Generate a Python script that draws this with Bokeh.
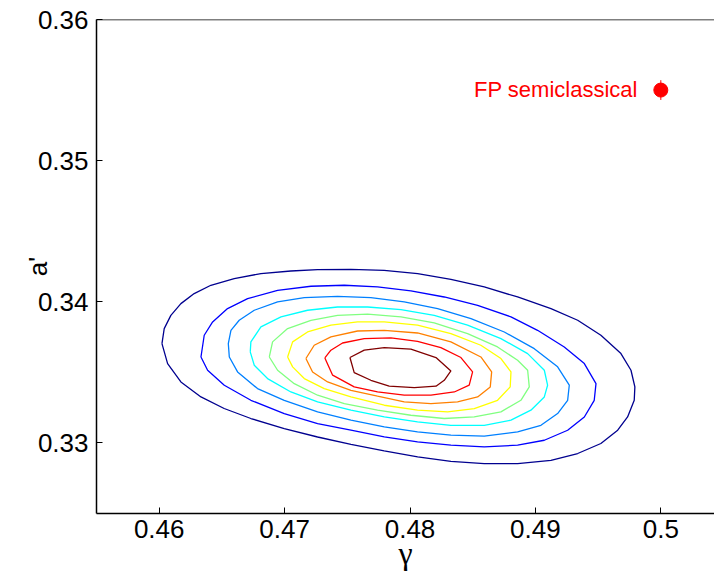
from bokeh.plotting import figure
from bokeh.models import FixedTicker, Span, Range1d
from bokeh.core.properties import value
from bokeh.embed import file_html
from bokeh.resources import INLINE

# ---- data ----
x_ticks = [0.46, 0.47, 0.48, 0.49, 0.5]
x_tick_labels = ["0.46", "0.47", "0.48", "0.49", "0.5"]
y_ticks = [0.33, 0.34, 0.35, 0.36]
y_tick_labels = ["0.33", "0.34", "0.35", "0.36"]

level_colors = ["#00008F", "#0000FF", "#0080FF", "#00FFFF", "#80FF80",
                "#FFFF00", "#FF8000", "#FF0000", "#800000"]

level1_x = [0.46022, 0.4604, 0.46093, 0.46173, 0.46279, 0.46412, 0.46598, 0.46811, 0.4705, 0.47263,
            0.47529, 0.47794, 0.48061, 0.48326, 0.48592, 0.48858, 0.49124, 0.49337, 0.49522, 0.49682,
            0.49762, 0.49793, 0.49788, 0.49735, 0.49656, 0.49522, 0.49337, 0.49124, 0.48858, 0.48592,
            0.48326, 0.48061, 0.47794, 0.47529, 0.47263, 0.46997, 0.46731, 0.46518, 0.46333, 0.46173,
            0.46067]
level1_y = [0.33704, 0.3381, 0.33904, 0.33987, 0.34058, 0.34117, 0.34164, 0.342, 0.34218, 0.34228,
            0.3423, 0.34223, 0.342, 0.34159, 0.34105, 0.34034, 0.33952, 0.33869, 0.33763, 0.33633,
            0.33515, 0.33397, 0.33302, 0.33184, 0.3309, 0.32996, 0.32925, 0.32877, 0.32854, 0.32854,
            0.3287, 0.32901, 0.32943, 0.32989, 0.33042, 0.33102, 0.33173, 0.33244, 0.33326, 0.33432,
            0.33562]

level2_x = [0.46333, 0.46359, 0.46426, 0.46545, 0.46705, 0.46944, 0.4721, 0.47476, 0.47741, 0.48007,
            0.48273, 0.48539, 0.48805, 0.49017, 0.4923, 0.4939, 0.49483, 0.49469, 0.4939, 0.49257,
            0.49071, 0.48858, 0.48592, 0.48326, 0.4806, 0.47795, 0.47529, 0.47263, 0.46997, 0.46731,
            0.46519, 0.46386]
level2_y = [0.33609, 0.33763, 0.33857, 0.33952, 0.34022, 0.34081, 0.3411, 0.34117, 0.34105, 0.34077,
            0.34034, 0.33975, 0.33893, 0.33798, 0.3368, 0.33562, 0.3342, 0.33302, 0.33184, 0.3309,
            0.33019, 0.32984, 0.32972, 0.32984, 0.33007, 0.33043, 0.3309, 0.33137, 0.33208, 0.33302,
            0.33409, 0.33515]

level3_x = [0.46551, 0.46572, 0.46638, 0.46758, 0.46944, 0.47157, 0.47422, 0.47688, 0.47954, 0.4822,
            0.48486, 0.48752, 0.48991, 0.49177, 0.4927, 0.49257, 0.49177, 0.49044, 0.48858, 0.48592,
            0.48326, 0.4806, 0.47795, 0.47529, 0.47263, 0.46997, 0.46784, 0.46625, 0.46559]
level3_y = [0.33704, 0.33798, 0.33869, 0.3394, 0.33999, 0.3403, 0.34039, 0.3403, 0.33999, 0.33952,
            0.33881, 0.33786, 0.33668, 0.33539, 0.33409, 0.33302, 0.33208, 0.33125, 0.33078, 0.33048,
            0.33055, 0.33078, 0.33114, 0.33161, 0.3322, 0.33302, 0.33385, 0.33503, 0.33609]

level4_x = [0.46726, 0.46731, 0.46811, 0.46971, 0.47183, 0.47422, 0.47662, 0.47928, 0.48193, 0.48459,
            0.48725, 0.48938, 0.49071, 0.49097, 0.49071, 0.48964, 0.48805, 0.48592, 0.48326, 0.4806,
            0.47795, 0.47529, 0.47263, 0.4705, 0.46864, 0.46758]
level4_y = [0.33645, 0.33716, 0.33822, 0.33893, 0.3394, 0.33963, 0.33963, 0.33945, 0.33904, 0.33834,
            0.33739, 0.33633, 0.33515, 0.33409, 0.33326, 0.33232, 0.33161, 0.33125, 0.33125, 0.33149,
            0.33184, 0.33232, 0.33291, 0.33361, 0.33456, 0.3355]

level5_x = [0.46878, 0.46904, 0.47024, 0.4721, 0.47422, 0.47662, 0.47928, 0.48193, 0.48459, 0.48698,
            0.48858, 0.48938, 0.48951, 0.48884, 0.48725, 0.48512, 0.48273, 0.48007, 0.47741, 0.47476,
            0.47263, 0.47077, 0.46944]
level5_y = [0.33609, 0.33716, 0.3381, 0.33869, 0.33904, 0.33912, 0.33893, 0.3385, 0.33775, 0.3368,
            0.33586, 0.33515, 0.33397, 0.33302, 0.3322, 0.33184, 0.33173, 0.33196, 0.33232, 0.33279,
            0.33338, 0.3342, 0.33515]

level6_x = [0.47024, 0.47064, 0.47183, 0.47369, 0.47582, 0.47795, 0.4806, 0.48326, 0.48565, 0.48725,
            0.48805, 0.48799, 0.48698, 0.48512, 0.483, 0.4806, 0.47795, 0.47529, 0.47316, 0.47157,
            0.47064]
level6_y = [0.33609, 0.33716, 0.33786, 0.33834, 0.33857, 0.33857, 0.33834, 0.33775, 0.33692, 0.33598,
            0.33503, 0.33397, 0.33302, 0.33243, 0.3322, 0.33232, 0.33267, 0.33326, 0.33385, 0.33456,
            0.33539]

level7_x = [0.4717, 0.47236, 0.47369, 0.47582, 0.47795, 0.4806, 0.48326, 0.48565, 0.48651, 0.4864,
            0.48539, 0.48379, 0.48167, 0.47954, 0.47741, 0.47529, 0.47343, 0.47223]
level7_y = [0.33598, 0.33692, 0.33751, 0.33793, 0.33798, 0.33779, 0.33716, 0.33609, 0.33503, 0.33397,
            0.33326, 0.33291, 0.33279, 0.33291, 0.33331, 0.33373, 0.33432, 0.33503]

level8_x = [0.47321, 0.47369, 0.47462, 0.47635, 0.47848, 0.4806, 0.48246, 0.48406, 0.48499, 0.48472,
            0.48353, 0.48167, 0.47954, 0.47741, 0.47555, 0.47383]
level8_y = [0.33602, 0.33657, 0.33708, 0.33739, 0.33744, 0.3372, 0.33675, 0.33605, 0.33503, 0.33409,
            0.33361, 0.33338, 0.33338, 0.33361, 0.33397, 0.3348]

level9_x = [0.47521, 0.47635, 0.47795, 0.48007, 0.48207, 0.48326, 0.48273, 0.48207, 0.48034, 0.47834,
            0.47688, 0.47555]
level9_y = [0.33605, 0.33657, 0.33675, 0.33664, 0.33605, 0.3351, 0.33444, 0.33402, 0.33392, 0.33402,
            0.33444, 0.33498]

fp_gamma = [0.5]
fp_a = [0.355]
fp_err = [0.0007]
fp_label = ["FP semiclassical"]

# ---- figure ----
p = figure(width=714, height=580, output_backend="svg", toolbar_location=None,
           x_range=Range1d(0.455, 0.50428), y_range=Range1d(0.325, 0.36),
           min_border_left=96, min_border_right=0, min_border_top=19, min_border_bottom=67)
p.background_fill_color = "white"
p.border_fill_color = "white"
p.outline_line_color = None
p.xgrid.visible = False
p.ygrid.visible = False

font = "Liberation Sans"
for ax in (p.xaxis[0], p.yaxis[0]):
    ax.axis_line_width = 1.5
    ax.axis_line_color = "black"
    ax.major_tick_in = 6
    ax.major_tick_out = 0
    ax.minor_tick_line_color = None
    ax.major_tick_line_color = "black"
    ax.major_tick_line_width = 1
    ax.major_label_text_font = font
    ax.major_label_text_font_size = "26px"
    ax.major_label_text_color = "black"
    ax.axis_label_text_font_style = "normal"
    ax.axis_label_text_color = "black"

p.xaxis.ticker = FixedTicker(ticks=x_ticks)
p.xaxis.major_label_overrides = dict(zip(x_ticks, x_tick_labels))
p.yaxis.ticker = FixedTicker(ticks=y_ticks)
p.yaxis.major_label_overrides = dict(zip(y_ticks, y_tick_labels))
p.xaxis.major_label_standoff = 6
p.yaxis.major_label_standoff = 8

p.xaxis.axis_label = "γ"
p.xaxis.axis_label_text_font = "Liberation Serif"
p.xaxis.axis_label_text_font_size = "32px"
p.xaxis.axis_label_standoff = -6
p.yaxis.axis_label = "a'"
p.yaxis.axis_label_text_font = font
p.yaxis.axis_label_text_font_size = "26px"
p.yaxis.axis_label_standoff = -18

# top border line
p.add_layout(Span(location=0.36, dimension="width", line_color="black", line_width=1.5))

# contours
xs_all = [level1_x, level2_x, level3_x, level4_x, level5_x, level6_x, level7_x, level8_x, level9_x]
ys_all = [level1_y, level2_y, level3_y, level4_y, level5_y, level6_y, level7_y, level8_y, level9_y]
for xs, ys, col in zip(xs_all, ys_all, level_colors):
    p.line(xs + xs[:1], ys + ys[:1], line_color=col, line_width=1.3)

# FP semiclassical point with error bar
p.segment(x0=fp_gamma, y0=[a - e for a, e in zip(fp_a, fp_err)],
          x1=fp_gamma, y1=[a + e for a, e in zip(fp_a, fp_err)],
          line_color="red", line_width=1)
p.scatter(fp_gamma, fp_a, size=14, marker="circle", fill_color="red", line_color="red")
p.text(x=fp_gamma, y=fp_a, text=fp_label, text_color="red", text_font=value(font),
       text_font_size="22px", text_align="right", text_baseline="middle",
       x_offset=-23, y_offset=-1)

open("out.html", "w").write(file_html(p, INLINE))
